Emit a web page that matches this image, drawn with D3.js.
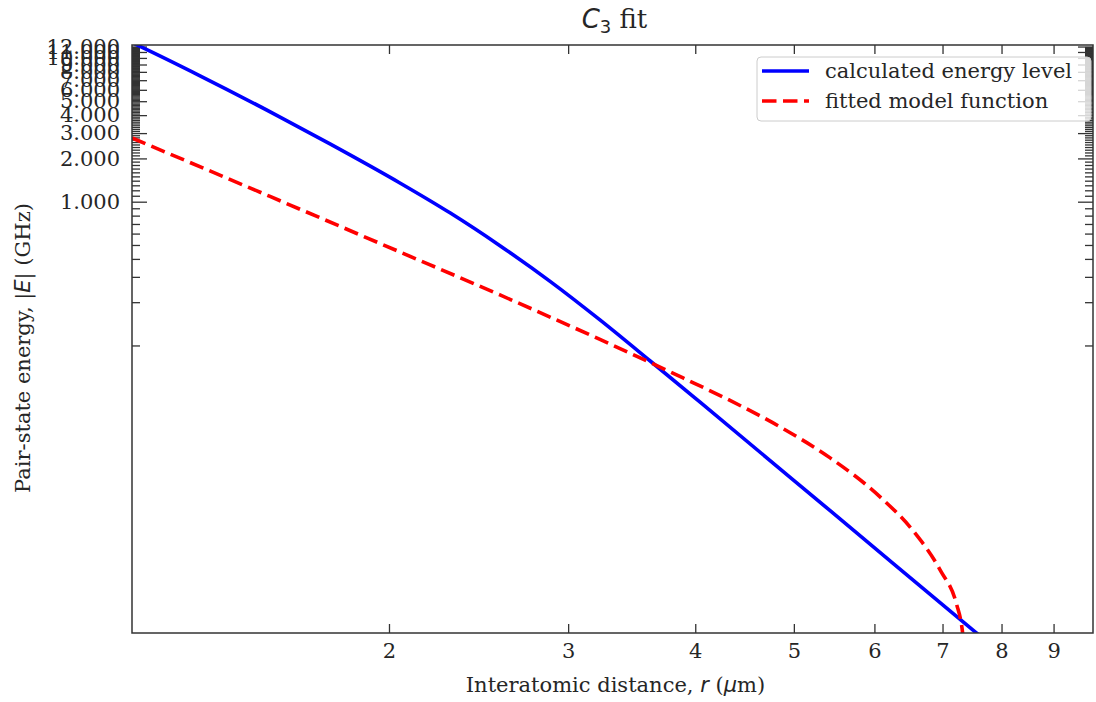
<!DOCTYPE html>
<html>
<head>
<meta charset="utf-8">
<script src="https://cdn.jsdelivr.net/npm/d3@7"></script>
<style>
  body { margin: 0; background: #fff; }
  svg text { font-family: "DejaVu Serif", serif; fill: #262626; }
</style>
</head>
<body>
<svg id="chart" width="1096" height="702"></svg>
<script>
// values
const calcR = [1.118, 1.1385, 1.304, 1.563, 1.750, 2.050, 2.296, 2.571, 2.880, 3.224, 3.610, 4.044, 5.428, 7.50, 7.974];
const calcE = [12.78, 12.03, 7.51, 3.88, 2.524, 1.350, 0.8364, 0.4942, 0.2792, 0.1505, 0.0783, 0.0403, 0.00709, 0.001048, 0.00073];

const fitR = [1.118, 1.528, 2.050, 2.571, 3.224, 3.891, 4.327, 4.847, 5.428, 6.077, 6.550, 6.961, 7.229, 7.312, 7.349];
const fitE = [2.775, 1.0875, 0.4471, 0.2246, 0.1101, 0.05945, 0.04146, 0.02713, 0.01652, 0.008844, 0.005133, 0.002748, 0.00157, 0.001109, 0.000827];

const xTicks = [2, 3, 4, 5, 6, 7, 8, 9];
const yMajor = d3.range(1, 13);
const yMinor = d3.range(1, 120).filter(i => i % 10 != 0).map(i => i / 10);

const svg = d3.select("#chart");
const margin = { left: 132, top: 45, right: 3, bottom: 69 };
const width = 1096 - margin.left - margin.right,
  height = 702 - margin.top - margin.bottom;

const x = d3.scaleLog().domain([1.118, 9.84]).range([0, width]);
const y = d3.scaleLog().domain([0.001, 12.3]).range([height, 0]);

const g = svg.append("g").attr("transform", `translate(${margin.left},${margin.top})`);

g.append("clipPath").attr("id", "clip")
  .append("rect").attr("width", width).attr("height", height);

function styleAxis(sel) {
  sel.select(".domain").remove();
  sel.selectAll("line").attr("stroke", "#333").attr("stroke-width", 1.3);
  sel.selectAll("text").attr("font-size", 21).attr("font-family", "DejaVu Serif").attr("fill", "#262626");
}

// x axis bottom + top
g.append("g").attr("transform", `translate(0,${height})`)
  .call(d3.axisBottom(x).tickValues(xTicks).tickSize(-9).tickPadding(10).tickFormat(d3.format("d")))
  .call(styleAxis);
g.append("g")
  .call(d3.axisTop(x).tickValues(xTicks).tickSize(-9).tickFormat(""))
  .call(styleAxis);

// y axis left + right
g.append("g")
  .call(d3.axisLeft(y).tickValues(yMinor).tickSize(-8).tickFormat(""))
  .call(styleAxis);
g.append("g")
  .call(d3.axisLeft(y).tickValues(yMajor).tickSize(-15).tickPadding(12).tickFormat(d3.format(".3f")))
  .call(styleAxis);
g.append("g").attr("transform", `translate(${width},0)`)
  .call(d3.axisRight(y).tickValues(yMinor).tickSize(-8).tickFormat(""))
  .call(styleAxis);
g.append("g").attr("transform", `translate(${width},0)`)
  .call(d3.axisRight(y).tickValues(yMajor).tickSize(-15).tickFormat(""))
  .call(styleAxis);

// curves
const line = (rs, es) => d3.line()
  .x((d, i) => x(rs[i]))
  .y((d, i) => y(es[i]))
  .curve(d3.curveMonotoneX)(rs);

const plot = g.append("g").attr("clip-path", "url(#clip)");
plot.append("path")
  .attr("d", line(calcR, calcE))
  .attr("fill", "none").attr("stroke", "#0000ff").attr("stroke-width", 3.6);
plot.append("path")
  .attr("d", line(fitR, fitE))
  .attr("fill", "none").attr("stroke", "#ff0000").attr("stroke-width", 3.6)
  .attr("stroke-dasharray", "14.5,6.5");

// frame
g.append("rect").attr("width", width).attr("height", height)
  .attr("fill", "none").attr("stroke", "#333").attr("stroke-width", 1.5);

// legend
const leg = g.append("g").attr("transform", `translate(${757 - margin.left},${57 - margin.top})`);
leg.append("rect").attr("width", 334).attr("height", 64).attr("rx", 4)
  .attr("fill", "#fff").attr("fill-opacity", 0.8).attr("stroke", "#cccccc");
const entries = [
  { label: "calculated energy level", color: "#0000ff", dash: null },
  { label: "fitted model function", color: "#ff0000", dash: "14.5,6.5" }
];
entries.forEach((e, i) => {
  const yy = 14 + i * 30;
  leg.append("line").attr("x1", 5).attr("x2", 52).attr("y1", yy).attr("y2", yy)
    .attr("stroke", e.color).attr("stroke-width", 3.6)
    .attr("stroke-dasharray", e.dash);
  leg.append("text").attr("x", 68).attr("y", yy + 7)
    .attr("font-size", 21).text(e.label);
});

// title
const title = svg.append("text").attr("x", margin.left + width / 2 + 2).attr("y", 28)
  .attr("text-anchor", "middle").attr("font-size", 26);
title.append("tspan").attr("font-family", "DejaVu Sans").attr("font-style", "italic").text("C");
title.append("tspan").attr("font-family", "DejaVu Sans").attr("font-size", 18).attr("dy", 5).text("3");
title.append("tspan").attr("dy", -5).text(" fit");

// axis labels
const xl = svg.append("text").attr("x", margin.left + width / 2 + 3).attr("y", 692)
  .attr("text-anchor", "middle").attr("font-size", 21);
xl.append("tspan").text("Interatomic distance, ");
xl.append("tspan").attr("font-family", "DejaVu Sans").attr("font-style", "italic").text("r");
xl.append("tspan").text(" (");
xl.append("tspan").attr("font-family", "DejaVu Sans").attr("font-style", "italic").text("μ");
xl.append("tspan").text("m)");

const yl = svg.append("text")
  .attr("transform", `translate(30,348) rotate(-90)`)
  .attr("text-anchor", "middle").attr("font-size", 21);
yl.append("tspan").text("Pair-state energy, |");
yl.append("tspan").attr("font-family", "DejaVu Sans").attr("font-style", "italic").text("E");
yl.append("tspan").text("| (GHz)");
</script>
</body>
</html>
